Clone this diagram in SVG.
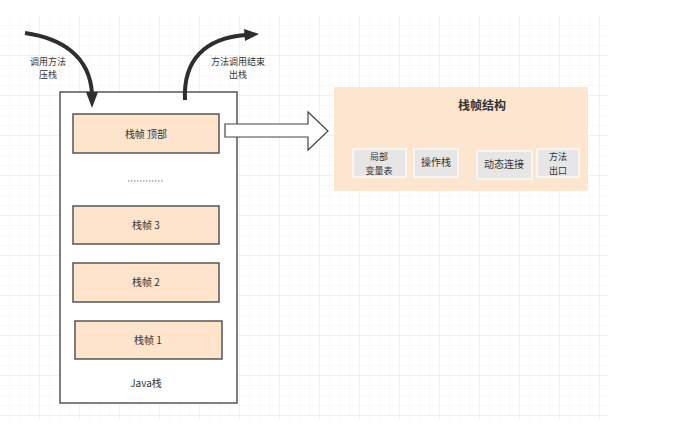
<svg xmlns="http://www.w3.org/2000/svg" width="684" height="441" viewBox="0 0 684 441">
<defs>
<pattern id="minor" width="10" height="10" patternUnits="userSpaceOnUse" x="0" y="16">
<path d="M10 0V10M0 10H10" fill="none" stroke="#f2f2f2" stroke-width="1"/>
</pattern>
<pattern id="major" width="40" height="40" patternUnits="userSpaceOnUse" x="0" y="16">
<path d="M40 0V40M0 40H40" fill="none" stroke="#e8e8e8" stroke-width="1"/>
</pattern>
<style>
text{font-family:"Noto Sans CJK SC","Liberation Sans",sans-serif;fill:#333;text-anchor:middle}
.lbl{font-size:10px}
.sm{font-size:9px}
.frame{fill:#fde4cb;stroke:#555;stroke-width:1.5}
.sub{fill:#e6e6e6;stroke:#fafafa;stroke-width:1.5}
.curve{fill:none;stroke:#2e2e2e;stroke-width:4}
</style>
</defs>
<rect width="684" height="441" fill="#fff"/>
<rect x="0" y="16" width="608" height="404" fill="url(#minor)"/>
<rect x="0" y="16" width="608" height="404" fill="url(#major)"/>

<g id="java-stack">
<rect x="60" y="92" width="177" height="311" fill="#fff" stroke="#555" stroke-width="1.5"/>
<text class="lbl" x="146" y="387">Java栈</text>
</g>
<g id="frame-top">
<rect class="frame" x="73" y="114" width="146" height="39"/>
<text class="lbl" x="146" y="138">栈帧 顶部</text>
</g>
<g id="dots">
<line x1="128" y1="181" x2="164" y2="181" stroke="#777" stroke-width="1" stroke-dasharray="1.5,1.5"/>
</g>
<g id="frame-3">
<rect class="frame" x="73" y="206" width="146" height="38"/>
<text class="lbl" x="146" y="229">栈帧 3</text>
</g>
<g id="frame-2">
<rect class="frame" x="73" y="263" width="146" height="39"/>
<text class="lbl" x="146" y="286">栈帧 2</text>
</g>
<g id="frame-1">
<rect class="frame" x="75" y="321" width="147" height="38"/>
<text class="lbl" x="148" y="344">栈帧 1</text>
</g>

<g id="frame-structure">
<rect x="334" y="87" width="254" height="104" fill="#fde6cf"/>
<text x="482" y="110" style="font-size:12px;font-weight:bold">栈帧结构</text>
</g>
<g id="local-vars">
<rect class="sub" x="353" y="149" width="53" height="28"/>
<text class="sm" x="379" y="160">局部</text>
<text class="sm" x="379" y="174">变量表</text>
</g>
<g id="operand-stack">
<rect class="sub" x="414" y="149" width="44" height="28"/>
<text class="lbl" x="436" y="166">操作栈</text>
</g>
<g id="dynamic-link">
<rect class="sub" x="477" y="151" width="55" height="28"/>
<text class="lbl" x="504" y="168">动态连接</text>
</g>
<g id="method-exit">
<rect class="sub" x="537" y="149" width="42" height="28"/>
<text class="sm" x="558" y="160">方法</text>
<text class="sm" x="558" y="174">出口</text>
</g>

<g id="connectors">
<path class="curve" d="M25 33 C60 38 90 55 92 94"/>
<polygon points="86,92 98,92 92,108" fill="#2e2e2e"/>
<path class="curve" d="M185 100 C183 60 205 38 246 35"/>
<polygon points="244,29 245,41 259,34" fill="#2e2e2e"/>
<polygon points="225,124 308,124 308,112 328,131 308,150 308,137 225,137" fill="#fff" stroke="#444" stroke-width="1.2"/>
<text class="sm" x="48" y="65">调用方法</text>
<text class="sm" x="48" y="78">压栈</text>
<text class="sm" x="238" y="65">方法调用结束</text>
<text class="sm" x="238" y="78">出栈</text>
</g>
</svg>
